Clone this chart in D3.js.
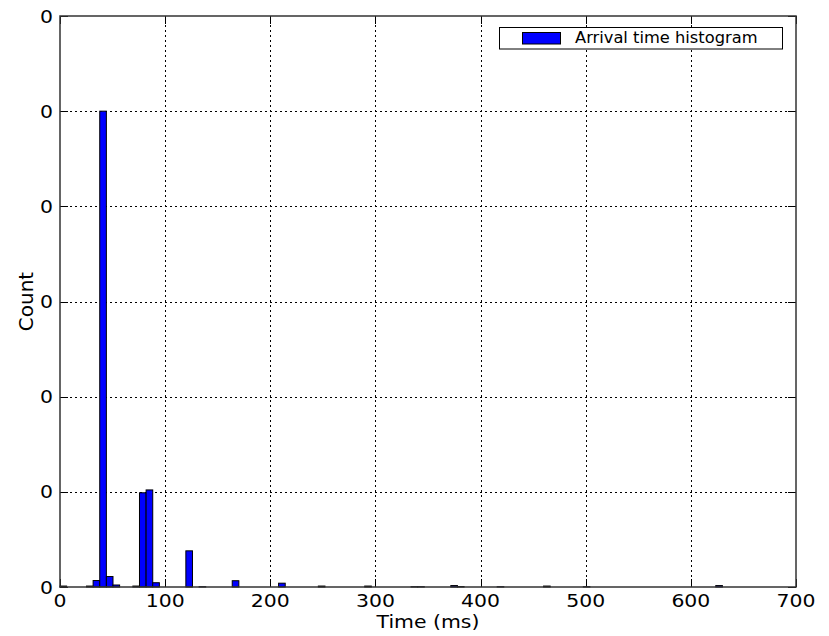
<!DOCTYPE html>
<html>
<head>
<meta charset="utf-8">
<script src="https://cdn.jsdelivr.net/npm/d3@7"></script>
<style>
  body { margin: 0; background: #fff; }
  text { font-family: "DejaVu Sans", sans-serif; fill: #000; }
</style>
</head>
<body>
<div id="chart"></div>
<script>
// histogram bins (start time in ms) and their normalised heights
var binWidth = 6.3;
var binStart = [0, 25.2, 31.5, 37.8, 44.1, 50.4, 69.3, 75.6, 81.9, 88.2, 119.7, 132.3,
                163.8, 207.9, 245.7, 289.8, 333.9, 340.2, 371.7, 378.0, 415.8, 459.9, 497.7, 623.7];
var binValue = [0.0001, 0.0001, 0.00068, 0.05, 0.0011, 0.00021, 0.0001, 0.0099, 0.0102, 0.00045, 0.0038, 0.00003,
                0.00066, 0.0004, 0.0001, 0.0001, 0.00003, 0.00003, 0.00015, 0.00005, 0.00003, 0.0001, 0.00003, 0.00015];
var xTicks = [0, 100, 200, 300, 400, 500, 600, 700];
var yTicks = [0, 0.01, 0.02, 0.03, 0.04, 0.05, 0.06];
var legendLabel = "Arrival time histogram";

var width = 829, height = 636;
var margin = {left: 60, top: 16, right: 33, bottom: 49};

var svg = d3.select("#chart").append("svg")
    .attr("width", width)
    .attr("height", height);

var x = d3.scaleLinear().domain([0, 700]).range([margin.left, width - margin.right]);
var y = d3.scaleLinear().domain([0, 0.06]).range([height - margin.bottom, margin.top]);
var fmt = d3.format("d");

var bins = binStart.map(function(s, i){ return {x0: s, x1: s + binWidth, v: binValue[i]}; });

// grid
var grid = svg.append("g").attr("stroke", "#000").attr("stroke-width", 1)
    .attr("stroke-dasharray", "2,3");
grid.selectAll(".gx").data(xTicks.slice(1, -1)).enter().append("line")
    .attr("x1", function(d){ return Math.round(x(d)) + 0.5; })
    .attr("x2", function(d){ return Math.round(x(d)) + 0.5; })
    .attr("y1", y(0)).attr("y2", y(0.06));
grid.selectAll(".gy").data(yTicks.slice(1, -1)).enter().append("line")
    .attr("y1", function(d){ return Math.round(y(d)) + 0.5; })
    .attr("y2", function(d){ return Math.round(y(d)) + 0.5; })
    .attr("x1", x(0)).attr("x2", x(700));

// bars
svg.append("g").selectAll("rect").data(bins).enter().append("rect")
    .attr("x", function(d){ return x(d.x0); })
    .attr("width", function(d){ return x(d.x1) - x(d.x0); })
    .attr("y", function(d){ return y(d.v); })
    .attr("height", function(d){ return y(0) - y(d.v); })
    .attr("fill", "#0000ff")
    .attr("stroke", "#000")
    .attr("stroke-width", 1);

// ticks (inward, all four sides)
var tl = 8;
var ticks = svg.append("g").attr("stroke", "#000").attr("stroke-width", 1);
xTicks.forEach(function(d){
  var px = Math.round(x(d)) + 0.5;
  ticks.append("line").attr("x1", px).attr("x2", px).attr("y1", y(0)).attr("y2", y(0) - tl);
  ticks.append("line").attr("x1", px).attr("x2", px).attr("y1", y(0.06)).attr("y2", y(0.06) + tl);
});
yTicks.forEach(function(d){
  var py = Math.round(y(d)) + 0.5;
  ticks.append("line").attr("y1", py).attr("y2", py).attr("x1", x(0)).attr("x2", x(0) + tl);
  ticks.append("line").attr("y1", py).attr("y2", py).attr("x1", x(700)).attr("x2", x(700) - tl);
});

// frame
svg.append("rect")
    .attr("x", x(0)).attr("y", y(0.06))
    .attr("width", x(700) - x(0)).attr("height", y(0) - y(0.06))
    .attr("fill", "none").attr("stroke", "#333").attr("stroke-width", 1.5);

// tick labels (stretched a little like the original raster)
svg.append("g").selectAll("text").data(xTicks).enter().append("text")
    .attr("transform", function(d){ return "translate(" + x(d) + "," + (y(0) + 20) + ") scale(1.2,1)"; })
    .attr("text-anchor", "middle")
    .style("font-size", "17px")
    .text(function(d){ return fmt(d); });

svg.append("g").selectAll("text").data(yTicks).enter().append("text")
    .attr("transform", function(d){ return "translate(" + (x(0) - 7) + "," + (y(d) + 6.5) + ") scale(1.2,1)"; })
    .attr("text-anchor", "end")
    .style("font-size", "17px")
    .text(function(d){ return fmt(d); });

// axis titles
svg.append("text")
    .attr("transform", "translate(" + ((x(0) + x(700)) / 2) + "," + 628 + ") scale(1.2,1)")
    .attr("text-anchor", "middle")
    .style("font-size", "17px")
    .text("Time (ms)");

svg.append("text")
    .attr("transform", "translate(33," + ((y(0) + y(0.06)) / 2) + ") rotate(-90)")
    .attr("text-anchor", "middle")
    .style("font-size", "20px")
    .text("Count");

// legend
var lg = svg.append("g");
lg.append("rect")
    .attr("x", 499.5).attr("y", 27.5).attr("width", 283).attr("height", 21.5)
    .attr("fill", "#fff").attr("stroke", "#000").attr("stroke-width", 1);
lg.append("rect")
    .attr("x", 522.5).attr("y", 32.5).attr("width", 38).attr("height", 11.5)
    .attr("fill", "#0000ff").attr("stroke", "#000").attr("stroke-width", 1);
lg.append("text")
    .attr("x", 575).attr("y", 42.5)
    .style("font-size", "16.3px")
    .text(legendLabel);
</script>
</body>
</html>
